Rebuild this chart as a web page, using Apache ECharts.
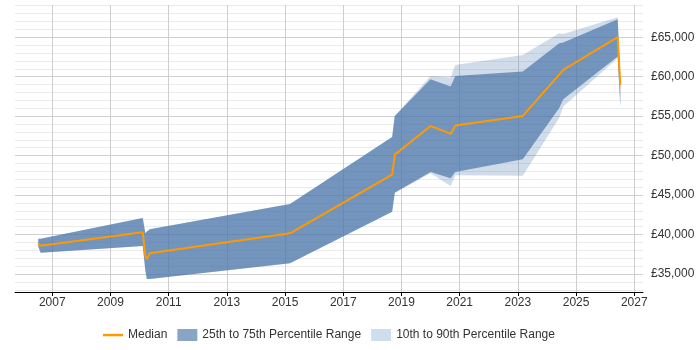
<!DOCTYPE html>
<html>
<head>
<meta charset="utf-8">
<script src="https://cdn.jsdelivr.net/npm/echarts@6/dist/echarts.min.js"></script>
<style>html,body{margin:0;padding:0;background:#fff}#c{width:700px;height:350px}</style>
</head>
<body>
<div id="c"></div>
<script>
// Dates as decimal years
var dates  = [2006.52, 2006.60, 2010.11, 2010.20, 2010.25, 2010.35, 2015.17, 2018.68, 2018.77, 2020.00, 2020.69, 2020.85, 2023.17, 2024.42, 2024.56, 2026.43, 2026.52];
var median = [38900, 38590, 40290, 37280, 36860, 37620, 40160, 47590, 50120, 53760, 52750, 53800, 55030, 60270, 60860, 65000, 58960];
var p75    = [39470, 39480, 42100, 40160, 40400, 40670, 43870, 52360, 55030, 59660, 58740, 60100, 60640, 64240, 64340, 67280, 60000];
var p25    = [38500, 37700, 38550, 35420, 34370, 34370, 36360, 42900, 45300, 47930, 47130, 47930, 49540, 56040, 57140, 62540, 56300];
var p90    = [39470, 39480, 42100, 40160, 40400, 40670, 43870, 52360, 55030, 60080, 59900, 61490, 62760, 65510, 65420, 67540, 60200];
var p10    = [38500, 37700, 38550, 35420, 34370, 34370, 36360, 42900, 45300, 47760, 46150, 47500, 47460, 54770, 56230, 62340, 56100];
var xTicks = [2007, 2009, 2011, 2013, 2015, 2017, 2019, 2021, 2023, 2025, 2027];
var yTicks = [35000, 40000, 45000, 50000, 55000, 60000, 65000];
var yMinorTicks = [33000, 34000, 36000, 37000, 38000, 39000, 41000, 42000, 43000, 44000, 46000, 47000, 48000, 49000, 51000, 52000, 53000, 54000, 56000, 57000, 58000, 59000, 61000, 62000, 63000, 64000, 66000, 67000, 68000, 69000];

function pairs(a) { return dates.map(function (d, i) { return [d, a[i]]; }); }
function money(v) { return '£' + String(v).replace(/\B(?=(\d{3})+(?!\d))/g, ','); }
function band(upper, lower, fill) {
  return function (params, api) {
    var pts = [], i;
    for (i = 0; i < dates.length; i++) pts.push(api.coord([dates[i], upper[i]]));
    for (i = dates.length - 1; i >= 0; i--) pts.push(api.coord([dates[i], lower[i]]));
    return {type: 'polygon', shape: {points: pts}, style: {fill: fill}};
  };
}

var FONT = '"Liberation Sans", Arial, sans-serif';
var chart = echarts.init(document.getElementById('c'), null, {renderer: 'canvas'});
chart.setOption({
  animation: false,
  textStyle: {fontFamily: FONT},
  grid: {left: 15, right: 57, top: 5, bottom: 58},
  legend: {
    left: 103, top: 329, padding: 0, itemWidth: 20, itemHeight: 12, itemGap: 10,
    textStyle: {fontFamily: FONT, fontSize: 12, color: '#333'},
    data: [
      {name: 'Median', icon: 'path://M0,0 L0,0 M20,12 L20,12 M0,4.8 L20,4.8 L20,7.3 L0,7.3 Z', itemStyle: {color: '#ff9900', borderWidth: 0}},
      {name: '25th to 75th Percentile Range', icon: 'rect', itemStyle: {color: '#88a5c6', borderWidth: 0}},
      {name: '10th to 90th Percentile Range', icon: 'rect', itemStyle: {color: '#cfdeee', borderWidth: 0}}
    ]
  },
  xAxis: {
    type: 'value', min: 2005.72, max: 2027.3,
    axisLine: {show: true, lineStyle: {color: '#000', width: 1}},
    axisTick: {show: true, length: 4, lineStyle: {color: '#000'}, customValues: xTicks},
    axisLabel: {customValues: xTicks, margin: 5, fontSize: 12, color: '#333', fontFamily: FONT, formatter: function (v) { return String(v); }},
    splitLine: {show: true, lineStyle: {color: '#cfcfcf', width: 1}}
  },
  yAxis: [
    {
      type: 'value', position: 'right', min: 32720, max: 69080,
      axisLine: {show: false}, axisTick: {show: false, customValues: yTicks},
      axisLabel: {customValues: yTicks, margin: 8, fontSize: 12, color: '#333', fontFamily: FONT, formatter: money},
      splitLine: {show: true, lineStyle: {color: '#d0d0d0', width: 1}}
    },
    {
      type: 'value', position: 'right', min: 32720, max: 69080,
      axisLine: {show: false}, axisTick: {show: false, customValues: yMinorTicks},
      axisLabel: {show: false},
      splitLine: {show: true, lineStyle: {color: '#ebebeb', width: 1}}
    }
  ],
  series: [
    {name: '10th to 90th Percentile Range', type: 'custom', data: [[dates[0], p10[0]]], itemStyle: {color: '#cfdeee'},
     renderItem: band(p90, p10, 'rgba(69,114,167,0.25)'), silent: true, z: 2},
    {name: '25th to 75th Percentile Range', type: 'custom', data: [[dates[0], p25[0]]], itemStyle: {color: '#88a5c6'},
     renderItem: band(p75, p25, 'rgba(69,114,167,0.66)'), silent: true, z: 3},
    {name: 'Median', type: 'line', data: pairs(median), symbol: 'none', color: '#ff9900',
     lineStyle: {color: '#ff9900', width: 2}, itemStyle: {color: '#ff9900'}, z: 4}
  ]
});
</script>
</body>
</html>
